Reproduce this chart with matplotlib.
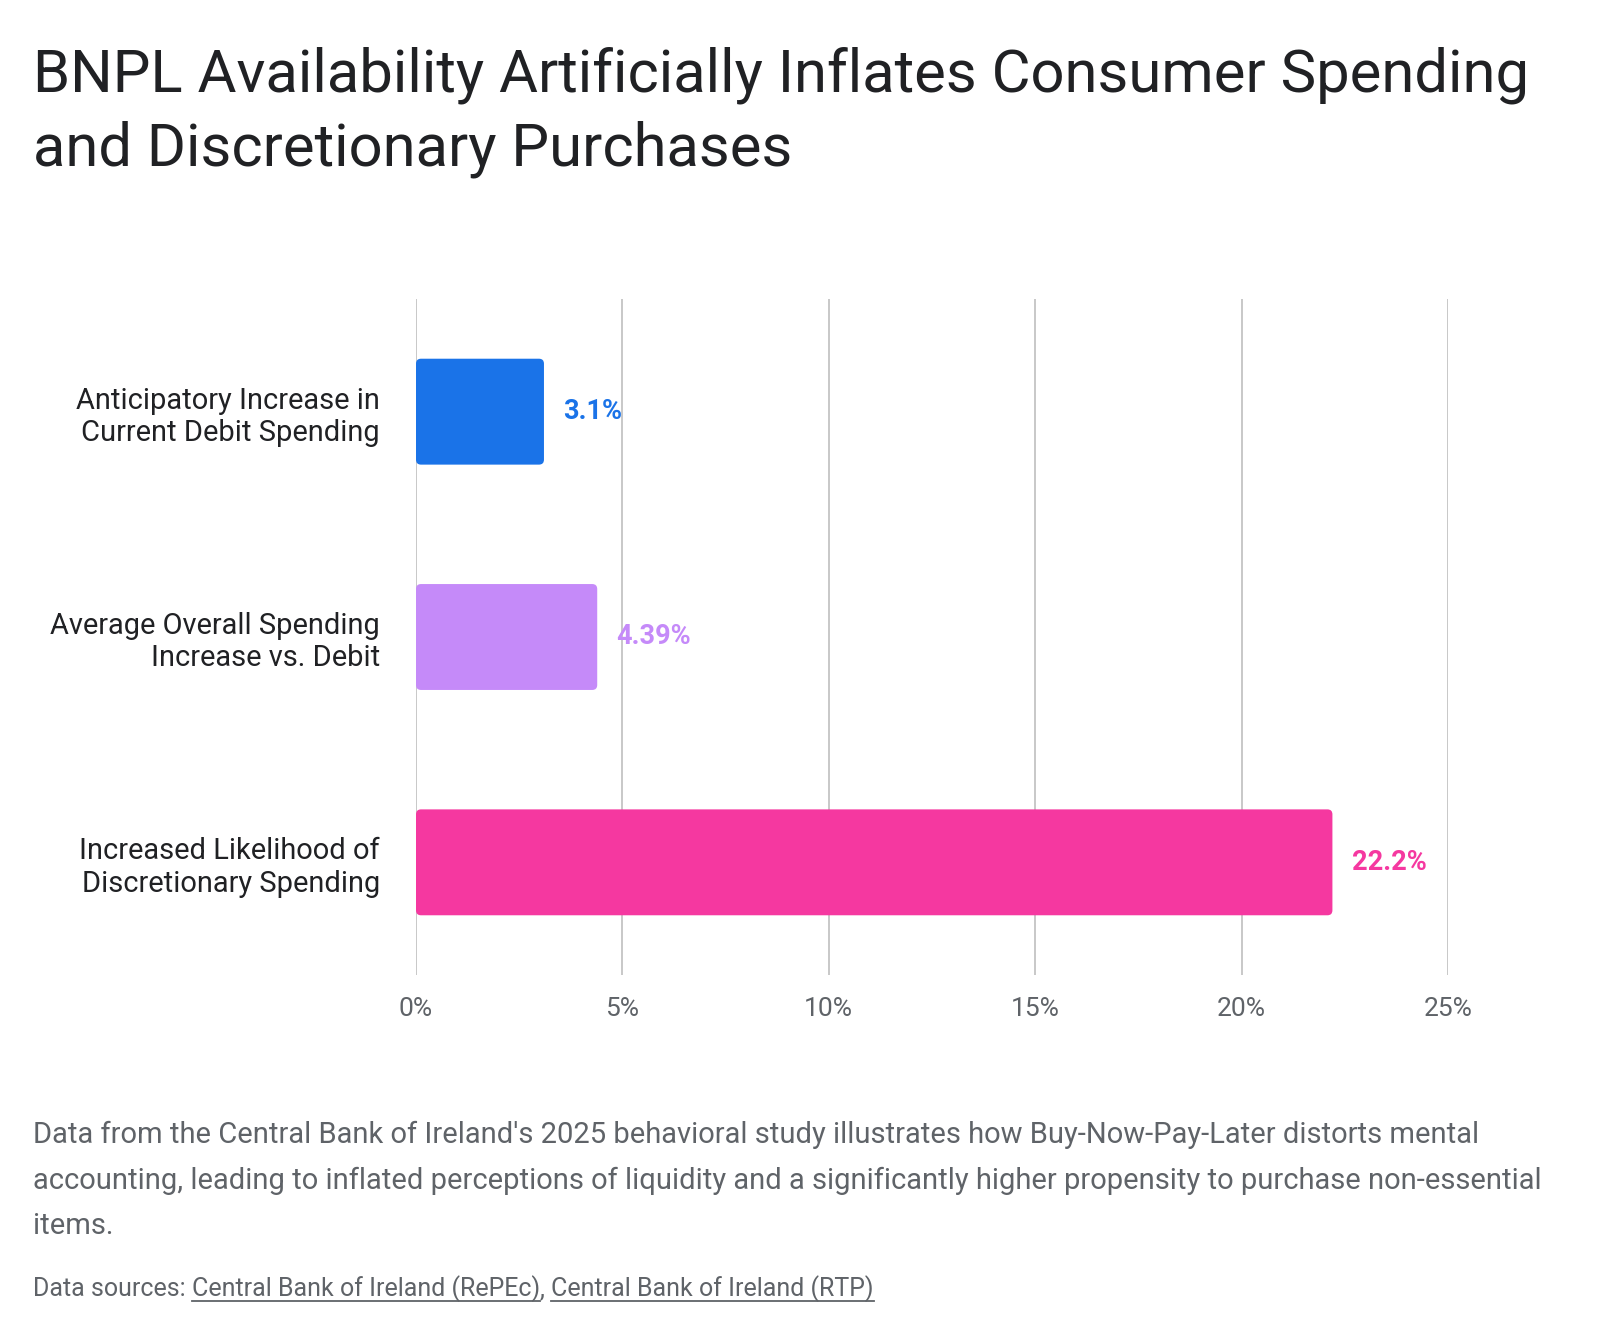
import matplotlib
matplotlib.use("Agg")
import matplotlib.pyplot as plt
from matplotlib.patches import FancyBboxPatch
from matplotlib.lines import Line2D

categories = ["Anticipatory Increase in\nCurrent Debit Spending",
              "Average Overall Spending\nIncrease vs. Debit",
              "Increased Likelihood of\nDiscretionary Spending"]
values = [3.1, 4.39, 22.2]
value_labels = ["3.1%", "4.39%", "22.2%"]
colors = ["#1a73e8", "#c58af9", "#f538a0"]
x_ticks = [0, 5, 10, 15, 20, 25]
x_tick_labels = ["0%", "5%", "10%", "15%", "20%", "25%"]

title_lines = ["BNPL Availability Artificially Inflates Consumer Spending",
               "and Discretionary Purchases"]
note_lines = ["Data from the Central Bank of Ireland's 2025 behavioral study illustrates how Buy-Now-Pay-Later distorts mental",
              "accounting, leading to inflated perceptions of liquidity and a significantly higher propensity to purchase non-essential",
              "items."]
sources = ["Central Bank of Ireland (RePEc)", "Central Bank of Ireland (RTP)"]

plt.rcParams['font.family'] = ['Roboto', 'DejaVu Sans']

W, H = 1600, 1334
fig = plt.figure(figsize=(W / 100, H / 100), dpi=100)

def fy(py):
    return 1 - py / H

ax = fig.add_axes([416 / W, fy(975), (1448 - 416) / W, (975 - 299) / H])
ypos = list(range(len(categories)))
bars = ax.barh(ypos, values, height=0.47, color=colors)
ax.set_xlim(0, 25)
ax.set_ylim(2.5, -0.5)

# replace bars with rounded versions
px_per_x = (1448 - 416) / 25
px_per_y = (975 - 299) / 3
r_px = 5
for b in bars:
    x, y = b.get_x(), b.get_y()
    w, h = b.get_width(), b.get_height()
    p = FancyBboxPatch((x, y), w, h,
                       boxstyle=f"round,pad=0,rounding_size={r_px / px_per_x}",
                       mutation_aspect=px_per_x / px_per_y,
                       facecolor=b.get_facecolor(), edgecolor="none", zorder=2)
    b.set_visible(False)
    ax.add_patch(p)

for i, (v, lab, c) in enumerate(zip(values, value_labels, colors)):
    ax.annotate(lab, xy=(v, i), xytext=(14, 0), textcoords="offset points",
                va="center", ha="left", color=c, fontsize=19.5, fontweight="bold", zorder=4)

ax.set_xticks(x_ticks)
ax.set_xticklabels(x_tick_labels)
ax.set_yticks(ypos)
ax.set_yticklabels(categories, fontsize=20.9, color="#202124", linespacing=1.2)
ax.tick_params(axis="x", length=0, pad=16, labelsize=19, labelcolor="#5f6368")
ax.tick_params(axis="y", length=0, pad=26)
ax.grid(axis="x", color="#c4c4c4", linewidth=1.3, zorder=0)
ax.set_axisbelow(True)
for s in ax.spines.values():
    s.set_visible(False)

for line, by in zip(title_lines, [92, 165]):
    fig.text(33 / W, fy(by), line, fontsize=43, color="#202124", va="baseline", ha="left")

for line, by in zip(note_lines, [1143, 1189, 1234]):
    fig.text(33 / W, fy(by), line, fontsize=21, color="#5f6368", va="baseline", ha="left")

# sources line with underlined links
fig.canvas.draw()
renderer = fig.canvas.get_renderer()
x0 = 33
base_y = fy(1296)
fs_src = 18
t = fig.text(x0 / W, base_y, "Data sources: ", fontsize=fs_src, color="#5f6368", va="baseline", ha="left")
bb = t.get_window_extent(renderer)
cur = bb.x1
for i, s in enumerate(sources):
    tt = fig.text(cur / W, base_y, s, fontsize=fs_src, color="#5f6368", va="baseline", ha="left")
    b2 = tt.get_window_extent(renderer)
    uy = base_y - 5 / H
    fig.add_artist(Line2D([b2.x0 / W, b2.x1 / W], [uy, uy], color="#5f6368", linewidth=1.3))
    cur = b2.x1
    if i < len(sources) - 1:
        tc = fig.text(cur / W, base_y, ", ", fontsize=fs_src, color="#5f6368", va="baseline", ha="left")
        cur = tc.get_window_extent(renderer).x1

fig.savefig("out.png", dpi=100, facecolor="white")
